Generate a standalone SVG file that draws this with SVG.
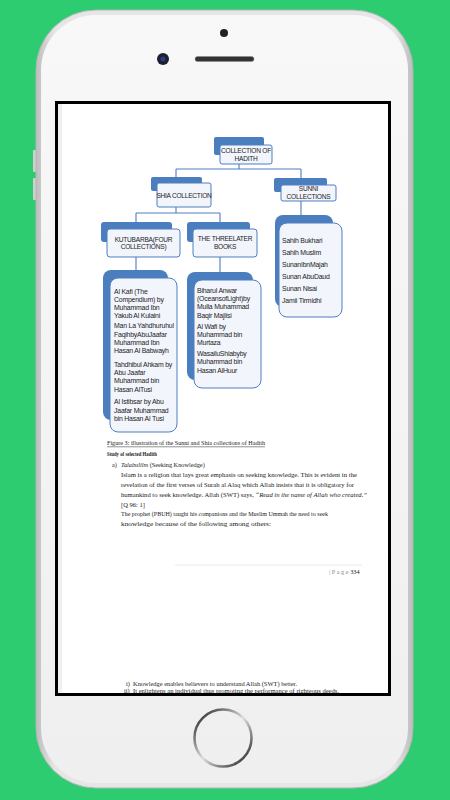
<svg xmlns="http://www.w3.org/2000/svg" width="450" height="800" viewBox="0 0 450 800">
<defs>
<style>
.back{fill:#4a7ebf}
.front{fill:#f2f5fc;stroke:#4f7ec0;stroke-width:1}
.lbl{font-family:"Liberation Sans",Arial,sans-serif;font-size:6.6px;fill:#222;letter-spacing:-0.25px}
.lst{font-family:"Liberation Sans",Arial,sans-serif;font-size:6.9px;fill:#222;letter-spacing:-0.2px}
.doc{font-family:"Liberation Serif","Times New Roman",serif;font-size:6.3px;fill:#1a1a1a}
.conn{fill:none;stroke:#4f7ec0;stroke-width:1.1}
</style>
<linearGradient id="edge" x1="0" y1="0" x2="1" y2="0">
<stop offset="0" stop-color="#bdbdbd"/><stop offset="0.05" stop-color="#e6e6e6"/><stop offset="0.95" stop-color="#e6e6e6"/><stop offset="1" stop-color="#bdbdbd"/>
</linearGradient>
<linearGradient id="face" x1="0" y1="0" x2="0" y2="1">
<stop offset="0" stop-color="#f8f8f8"/><stop offset="1" stop-color="#efefef"/>
</linearGradient>
<linearGradient id="ring" x1="0" y1="0" x2="1" y2="1">
<stop offset="0" stop-color="#111"/><stop offset="0.5" stop-color="#ddd"/><stop offset="1" stop-color="#111"/>
</linearGradient>
</defs>
<rect width="450" height="800" fill="#2ecc71"/>
<g id="phone">
<rect x="33" y="150" width="4" height="22" rx="1" fill="#d0d0d0"/>
<rect x="33" y="178" width="4" height="22" rx="1" fill="#d0d0d0"/>
<rect x="36" y="10" width="377" height="778" rx="60" fill="url(#edge)" stroke="#b5b5b5" stroke-width="1"/>
<rect x="41" y="15" width="367" height="768" rx="55" fill="url(#face)"/>
<circle cx="224" cy="33" r="4" fill="#222"/>
<circle cx="163" cy="59" r="6" fill="#1c2030"/>
<circle cx="163" cy="59" r="2.5" fill="#2a3f7a"/>
<rect x="195" y="56.5" width="59" height="5" rx="2.5" fill="#333" stroke="#888" stroke-width="0.5"/>
<circle cx="223" cy="738" r="28.5" fill="none" stroke="url(#ring)" stroke-width="2.5"/>
</g>
<g id="screen">
<rect x="56.5" y="102.5" width="333" height="592" fill="#fff" stroke="#000" stroke-width="3"/>
<rect x="58" y="104" width="4" height="589" fill="#f0f0f0"/>
</g>
<g id="connectors">
<path class="conn" d="M239,164V169M176,169H301M176,169V177M301,169V178"/>
<path class="conn" d="M176,207V213M136,213H220M136,213V222M220,213V222"/>
<path class="conn" d="M301,201V215M136,257V270M220,257V272"/>
</g>
<g id="hadith">
<rect class="back" x="214" y="137" width="50" height="18" rx="2"/>
<rect class="front" x="220" y="145" width="52" height="19" rx="2"/>
<text class="lbl" x="246" y="152.5" text-anchor="middle">COLLECTION OF</text>
<text class="lbl" x="246" y="160.5" text-anchor="middle">HADITH</text>
</g>
<g id="shia">
<rect class="back" x="151" y="177" width="51" height="14" rx="2"/>
<rect class="front" x="157" y="183" width="54" height="24" rx="2"/>
<text class="lbl" x="184" y="197.5" text-anchor="middle">SHIA COLLECTION</text>
</g>
<g id="sunni">
<rect class="back" x="274" y="178" width="53" height="14" rx="2"/>
<rect class="front" x="281" y="185" width="55" height="16" rx="2"/>
<text class="lbl" x="308.5" y="191" text-anchor="middle">SUNNI</text>
<text class="lbl" x="308.5" y="199" text-anchor="middle" font-size="5.6">COLLECTIONS</text>
</g>
<g id="kutubarba">
<rect class="back" x="101" y="222" width="71" height="20" rx="3"/>
<rect class="front" x="107" y="229" width="73" height="28" rx="3"/>
<text class="lbl" x="143.5" y="241.5" text-anchor="middle">KUTUBARBA(FOUR</text>
<text class="lbl" x="143.5" y="249" text-anchor="middle">COLLECTIONS)</text>
</g>
<g id="threelater">
<rect class="back" x="187" y="222" width="63" height="20" rx="3"/>
<rect class="front" x="193" y="229" width="64" height="28" rx="3"/>
<text class="lbl" x="225" y="241" text-anchor="middle">THE THREELATER</text>
<text class="lbl" x="225" y="249" text-anchor="middle">BOOKS</text>
</g>
<g id="sunni-list">
<rect class="back" x="275" y="215" width="58" height="92" rx="8"/>
<rect class="front" x="279" y="223" width="63" height="94" rx="8"/>
<text class="lst" x="282" y="242.5">Sahih Bukhari</text>
<text class="lst" x="282" y="254.5">Sahih Muslim</text>
<text class="lst" x="282" y="266.5">SunanIbnMajah</text>
<text class="lst" x="282" y="278.5">Sunan AbuDaud</text>
<text class="lst" x="282" y="290.5">Sunan Nisai</text>
<text class="lst" x="282" y="302.5">Jamii Tirmidhi</text>
</g>
<g id="kutubarba-list">
<rect class="back" x="103" y="270" width="65" height="150" rx="8"/>
<rect class="front" x="110" y="278" width="67" height="154" rx="8"/>
<text class="lst" x="114" y="293.5">Al Kafi (The</text>
<text class="lst" x="114" y="301.8">Compendium) by</text>
<text class="lst" x="114" y="309.8">Muhammad Ibn</text>
<text class="lst" x="114" y="318.2">Yakub Al Kulaini</text>
<text class="lst" x="114" y="328.2">Man La Yahdhuruhul</text>
<text class="lst" x="114" y="336.5">FaqihbyAbuJaafar</text>
<text class="lst" x="114" y="344.5">Muhammad Ibn</text>
<text class="lst" x="114" y="352.8">Hasan Al Babwayh</text>
<text class="lst" x="114" y="366.8">Tahdhibul Ahkam by</text>
<text class="lst" x="114" y="374.8">Abu Jaafar</text>
<text class="lst" x="114" y="383.2">Muhammad bin</text>
<text class="lst" x="114" y="391.5">Hasan AlTusi</text>
<text class="lst" x="114" y="404.2">Al Istibsar by Abu</text>
<text class="lst" x="114" y="412.5">Jaafar Muhammad</text>
<text class="lst" x="114" y="420.8">bin Hasan Al Tusi</text>
</g>
<g id="threelater-list">
<rect class="back" x="187" y="272" width="66" height="108" rx="8"/>
<rect class="front" x="194" y="280" width="67" height="108" rx="8"/>
<text class="lst" x="197" y="292.5">Biharul Anwar</text>
<text class="lst" x="197" y="300.8" letter-spacing="-0.5">(OceansofLight)by</text>
<text class="lst" x="197" y="308.8">Mulla Muhammad</text>
<text class="lst" x="197" y="317.5">Baqir Majlisi</text>
<text class="lst" x="197" y="328.5">Al Wafi by</text>
<text class="lst" x="197" y="336.8">Muhammad bin</text>
<text class="lst" x="197" y="345.2">Murtaza</text>
<text class="lst" x="197" y="355.8">WasailuShiabyby</text>
<text class="lst" x="197" y="364.2">Muhammad bin</text>
<text class="lst" x="197" y="372.5">Hasan AlHuur</text>
</g>
<g id="page-text">
<text class="doc" x="107" y="445" textLength="158" lengthAdjust="spacingAndGlyphs">Figure 3: illustration of the Sunni and Shia collections of Hadith</text>
<line x1="107" y1="446.8" x2="265" y2="446.8" stroke="#222" stroke-width="0.5"/>
<text class="doc" x="107" y="455.5" font-weight="bold" font-size="5.8" textLength="50" lengthAdjust="spacingAndGlyphs">Study of selected Hadith</text>
<text class="doc" x="112" y="467">a)</text>
<text class="doc" x="121" y="467" font-size="5.9"><tspan font-style="italic">Talabulilm</tspan> (Seeking Knowledge)</text>
<text class="doc" x="121" y="476.5" textLength="236" lengthAdjust="spacingAndGlyphs">Islam is a religion that lays great emphasis on seeking knowledge. This is evident in the</text>
<text class="doc" x="121" y="486.5" textLength="233" lengthAdjust="spacingAndGlyphs">revelation of the first verses of Surah al Alaq which Allah insists that it is obligatory for</text>
<text class="doc" x="121" y="496.5" textLength="246" lengthAdjust="spacingAndGlyphs">humankind to seek knowledge. Allah (SWT) says, <tspan font-style="italic">“Read in the name of Allah who created.”</tspan></text>
<text class="doc" x="121" y="506.5" textLength="24" lengthAdjust="spacingAndGlyphs">[Q 96: 1]</text>
<text class="doc" x="121" y="516" textLength="207" lengthAdjust="spacingAndGlyphs">The prophet (PBUH) taught his companions and the Muslim Ummah the need to seek</text>
<text class="doc" x="121" y="526" textLength="150" lengthAdjust="spacingAndGlyphs">knowledge because of the following among others:</text>
<line x1="175" y1="565" x2="362" y2="565" stroke="#e2e2e2" stroke-width="0.8"/>
<text class="doc" x="329" y="573.5" font-size="6"><tspan fill="#888">| P a g e </tspan>334</text>
<text class="doc" x="126" y="685.5">i)</text>
<text class="doc" x="133" y="685.5" textLength="164" lengthAdjust="spacingAndGlyphs">Knowledge enables believers to understand Allah (SWT) better.</text>
<text class="doc" x="124" y="693.2">ii)</text>
<text class="doc" x="133" y="693.2" textLength="206" lengthAdjust="spacingAndGlyphs">It enlightens an individual thus promoting the performance of righteous deeds.</text>
</g>
</svg>
